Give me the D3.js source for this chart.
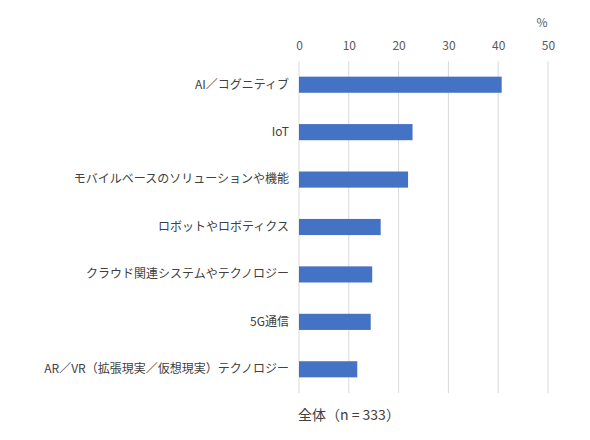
<!DOCTYPE html>
<html><head><meta charset="utf-8">
<script src="https://cdn.jsdelivr.net/npm/d3@7"></script>
<style>body{margin:0;background:#fff}svg{display:block}</style>
</head><body>
<script>
const categories = ["AI／コグニティブ","IoT","モバイルベースのソリューションや機能","ロボットやロボティクス","クラウド関連システムやテクノロジー","5G通信","AR／VR（拡張現実／仮想現実）テクノロジー"];
const values = [40.7, 22.8, 21.9, 16.4, 14.7, 14.4, 11.7];
const ticks = [0,10,20,30,40,50];
const unitLabel = "%";
const footer = "全体（n = 333）";

const W=590,H=440;
const svg=d3.select("body").append("svg").attr("width",W).attr("height",H);
const font="'Noto Sans CJK JP','Noto Sans',sans-serif";
const x=d3.scaleLinear().domain([0,50]).range([299,548]);
const y=d3.scaleBand().domain(categories).range([61,393]).paddingInner(0.66).paddingOuter(0.33);

svg.append("g").selectAll("line").data(ticks).join("line")
  .attr("x1",d=>x(d)).attr("x2",d=>x(d)).attr("y1",61).attr("y2",393)
  .attr("stroke","#d9d9d9").attr("stroke-width",1);

const ax=svg.append("g").attr("transform","translate(0,50)")
  .call(d3.axisTop(x).tickValues(ticks).tickSize(0).tickPadding(0));
ax.select(".domain").remove();
ax.selectAll("text").attr("font-family",font).attr("font-size",12).attr("fill","#595959");

svg.append("text").attr("x",542).attr("y",27).attr("text-anchor","middle")
  .attr("font-family",font).attr("font-size",12).attr("fill","#595959").text(unitLabel);

svg.append("g").selectAll("rect").data(values).join("rect")
  .attr("x",x(0)).attr("y",(d,i)=>y(categories[i]))
  .attr("width",d=>x(d)-x(0)).attr("height",y.bandwidth())
  .attr("fill","#4472c4");

const ay=svg.append("g").attr("transform","translate(299,0)")
  .call(d3.axisLeft(y).tickSize(0).tickPadding(10));
ay.select(".domain").remove();
ay.selectAll("text").attr("font-family",font).attr("font-size",12).attr("fill","#404040");

svg.append("text").attr("x",298).attr("y",420)
  .attr("font-family",font).attr("font-size",14).attr("fill","#404040").text(footer);
</script>
</body></html>
